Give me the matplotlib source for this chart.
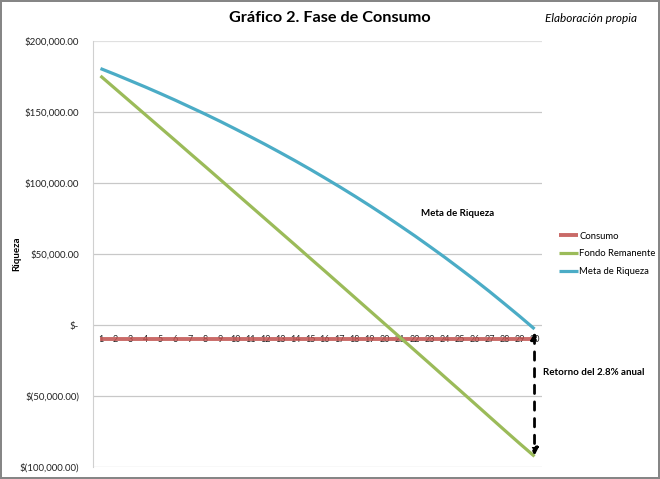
import numpy as np
import matplotlib
matplotlib.use("Agg")
import matplotlib.pyplot as plt
from matplotlib.ticker import FuncFormatter

plt.rcParams['font.family'] = ['Lato', 'DejaVu Sans']

#=========================================================================
# data (values in dollars)
#=========================================================================
anios = list(range(1, 31))

consumo = [-10000, -10000, -10000, -10000, -10000, -10000, -10000, -10000, -10000, -10000,
           -10000, -10000, -10000, -10000, -10000, -10000, -10000, -10000, -10000, -10000,
           -10000, -10000, -10000, -10000, -10000, -10000, -10000, -10000, -10000, -10000]

fondo_remanente = [175400, 166300, 157200, 148100, 139000, 129900, 120700, 111600, 102400, 93200,
                   84000, 74800, 65600, 56400, 47100, 37900, 28600, 19300, 10000, 700,
                   -8600, -17900, -27200, -36600, -45900, -55300, -64700, -74100, -83400, -92500]

meta_riqueza = [180600, 176400, 172000, 167600, 163000, 158300, 153400, 148500, 143400, 138100,
                132700, 127200, 121500, 115700, 109700, 103500, 97200, 90700, 84000, 77100,
                70000, 62800, 55300, 47700, 39800, 31800, 23500, 14900, 6200, -2800]

y_ticks = [-100000, -50000, 0, 50000, 100000, 150000, 200000]

series = [('Consumo', consumo, '#c0504d'),
          ('Fondo Remanente', fondo_remanente, '#9bbb59'),
          ('Meta de Riqueza', meta_riqueza, '#4bacc6')]


def money(v, pos=None):
    if v == 0:
        return '$-'
    if v < 0:
        return '$({:,.2f})'.format(-v)
    return '${:,.2f}'.format(v)


#=========================================================================
# figure
#=========================================================================
fig = plt.figure(figsize=(6.6, 4.79), dpi=100)
fig.patch.set_edgecolor('#868686')
fig.patch.set_linewidth(1.5)

ax = fig.add_axes([93 / 660, 1 - 467 / 479, (542 - 93) / 660, (467 - 41) / 479])

for name, vals, col in series:
    if name == 'Consumo':
        ax.plot(anios, vals, color=col, lw=2.8, alpha=0.85, label=name,
                solid_capstyle='butt', zorder=3)
    else:
        ax.plot(anios, vals, color=col, lw=2.3, label=name, solid_capstyle='butt', zorder=3)

ax.set_xlim(0.5, 30.5)
ax.set_ylim(-100000, 200000)

# gridlines
for yv in y_ticks:
    ax.axhline(yv, color='#c8c8c8' if yv != 200000 else '#e0e0e0', lw=0.9, zorder=1)

ax.set_yticks(y_ticks)
ax.yaxis.set_major_formatter(FuncFormatter(money))
ax.tick_params(axis='y', length=0, pad=10, labelsize=7, labelcolor='#222222')

# category axis crosses at zero
ax.spines['bottom'].set_position(('data', 0))
ax.spines['bottom'].set_visible(False)
ax.spines['top'].set_visible(False)
ax.spines['right'].set_visible(False)
ax.spines['left'].set_color('#d0d0d0')
ax.set_xticks(anios)
ax.set_xticklabels([str(a) for a in anios])
ax.tick_params(axis='x', length=0, pad=7.5, labelsize=6.5, labelcolor='#222222')
for lab in ax.get_xticklabels():
    lab.set_zorder(5)

ax.set_ylabel('Riqueza', fontsize=7, fontweight='bold')
ax.yaxis.set_label_coords(-0.16, 0.5)

# title and notes
fig.text(0.5, 1 - 18 / 479, 'Gráfico 2. Fase de Consumo', ha='center', va='center',
         fontsize=11.7, fontweight='bold')
fig.text(545 / 660, 1 - 18 / 479, 'Elaboración propia', ha='left', va='center',
         fontsize=8.5, style='italic')

ax.text(0.731, 0.594, 'Meta de Riqueza', transform=ax.transAxes, fontsize=7,
        fontweight='bold', ha='left', va='center')

# legend
leg = ax.legend(loc='center left', bbox_to_anchor=(1.02, 0.5), frameon=False,
                fontsize=6.8, handlelength=2.0, handletextpad=0.1, labelspacing=0.95)

# return arrow
ax.annotate('', xy=(30, -92000), xytext=(30, -5000),
            arrowprops=dict(arrowstyle='<|-|>', color='black', lw=2.0, ls=(0, (3, 3)),
                            mutation_scale=10, shrinkA=0, shrinkB=0),
            annotation_clip=False, zorder=6)
ax.text(1.003, 0.223, 'Retorno del 2.8% anual', transform=ax.transAxes, fontsize=7,
        fontweight='bold', ha='left', va='center')

fig.savefig('out.png', dpi=100)
